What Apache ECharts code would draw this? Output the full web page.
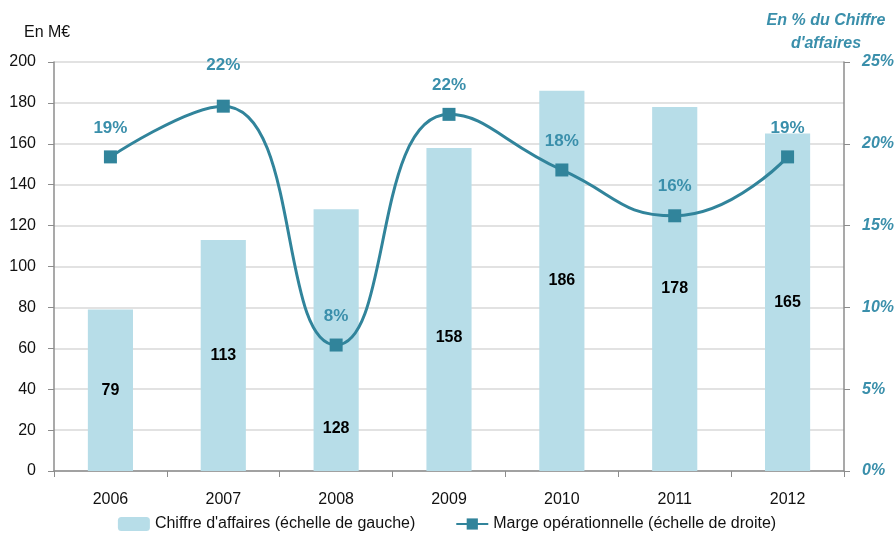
<!DOCTYPE html>
<html lang="fr">
<head>
    <meta charset="UTF-8">
    <script src="https://cdn.jsdelivr.net/npm/echarts@6/dist/echarts.min.js"></script>
    <title>Chiffre d'affaires et marge</title>
    <style>
        html, body { margin: 0; padding: 0; background: #fff; }
        #main { width: 894px; height: 538px; }
    </style>
</head>
<body>
<div id="main"></div>
<script type="text/javascript">
    var years = ['2006', '2007', '2008', '2009', '2010', '2011', '2012'];
    var chiffreAffaires = [79, 113, 128, 158, 186, 178, 165];
    var marge = [19.2, 22.3, 7.7, 21.8, 18.4, 15.6, 19.2];
    var leftTicks = [0, 200, 20];
    var rightTicks = [0, 25, 5];

    var font = '"Liberation Sans Narrow", "Liberation Sans", Arial, sans-serif';
    var teal = '#31849b';
    var tealText = '#3a8fab';

    // quelques étiquettes déplacées pour ne pas chevaucher la courbe
    var barLabelShift = { 2: 88, 3: 28 };
    var lineLabelShift = { 1: -12 };

    var chartDom = document.getElementById('main');
    var myChart = echarts.init(chartDom);

    var barData = chiffreAffaires.map(function (v, i) {
        var item = { value: v };
        if (barLabelShift[i]) {
            item.label = { offset: [0, barLabelShift[i]] };
        }
        return item;
    });
    var lineData = marge.map(function (v, i) {
        var item = { value: v };
        if (lineLabelShift[i]) {
            item.label = { offset: [0, lineLabelShift[i]] };
        }
        return item;
    });

    var option = {
        animation: false,
        textStyle: { fontFamily: font },
        title: [
            {
                text: 'En M€',
                left: 19, top: 20,
                textStyle: { fontFamily: font, fontSize: 16, fontWeight: 'normal', color: '#111' }
            },
            {
                text: "En % du Chiffre\nd'affaires",
                left: 821, top: 4,
                textAlign: 'center',
                textStyle: {
                    fontFamily: font, fontSize: 16, fontWeight: 'bold', fontStyle: 'italic',
                    color: tealText, lineHeight: 23, align: 'center'
                }
            }
        ],
        grid: { left: 54, right: 50, top: 62, bottom: 67, outerBoundsMode: 'none', containLabel: false },
        legend: {
            bottom: 1,
            left: 'center',
            itemGap: 40,
            textStyle: { fontFamily: font, fontSize: 16, color: '#111' },
            data: [
                { name: "Chiffre d'affaires (échelle de gauche)", itemStyle: { color: '#b7dde8' } },
                { name: 'Marge opérationnelle (échelle de droite)' }
            ],
            itemWidth: 32,
            itemHeight: 14
        },
        xAxis: {
            type: 'category',
            data: years,
            axisLine: { lineStyle: { color: '#8c8c8c', width: 1.5 } },
            axisTick: { show: true, length: 6, lineStyle: { color: '#8c8c8c' } },
            axisLabel: { fontFamily: font, fontSize: 16, color: '#111', margin: 21 }
        },
        yAxis: [
            {
                type: 'value',
                min: leftTicks[0], max: leftTicks[1], interval: leftTicks[2],
                axisLine: { show: true, lineStyle: { color: '#8c8c8c', width: 1.5 } },
                axisTick: { show: true, length: 6, lineStyle: { color: '#8c8c8c' } },
                axisLabel: { fontFamily: font, fontSize: 16, color: '#111', margin: 18 },
                splitLine: { lineStyle: { color: '#d9d9d9', width: 1.5 } }
            },
            {
                type: 'value',
                min: rightTicks[0], max: rightTicks[1], interval: rightTicks[2],
                position: 'right',
                axisLine: { show: true, lineStyle: { color: '#8c8c8c', width: 1.5 } },
                axisTick: { show: true, length: 6, lineStyle: { color: '#8c8c8c' } },
                axisLabel: {
                    fontFamily: font, fontSize: 16, fontWeight: 'bold', fontStyle: 'italic',
                    color: tealText, margin: 18, formatter: '{value}%'
                },
                splitLine: { show: false }
            }
        ],
        series: [
            {
                name: "Chiffre d'affaires (échelle de gauche)",
                type: 'bar',
                yAxisIndex: 0,
                barWidth: '40%',
                itemStyle: { color: '#b7dde8' },
                label: {
                    show: true,
                    position: 'inside',
                    fontFamily: font, fontSize: 16, fontWeight: 'bold', color: '#000'
                },
                data: barData
            },
            {
                name: 'Marge opérationnelle (échelle de droite)',
                type: 'line',
                yAxisIndex: 1,
                smooth: 0.5,
                symbol: 'rect',
                symbolSize: 13,
                lineStyle: { color: teal, width: 3 },
                itemStyle: { color: teal },
                label: {
                    show: true,
                    position: 'top',
                    distance: 14,
                    fontFamily: font, fontSize: 17, fontWeight: 'bold', color: tealText,
                    formatter: function (p) { return Math.round(p.value) + '%'; }
                },
                data: lineData
            }
        ]
    };

    myChart.setOption(option);
</script>
</body>
</html>
